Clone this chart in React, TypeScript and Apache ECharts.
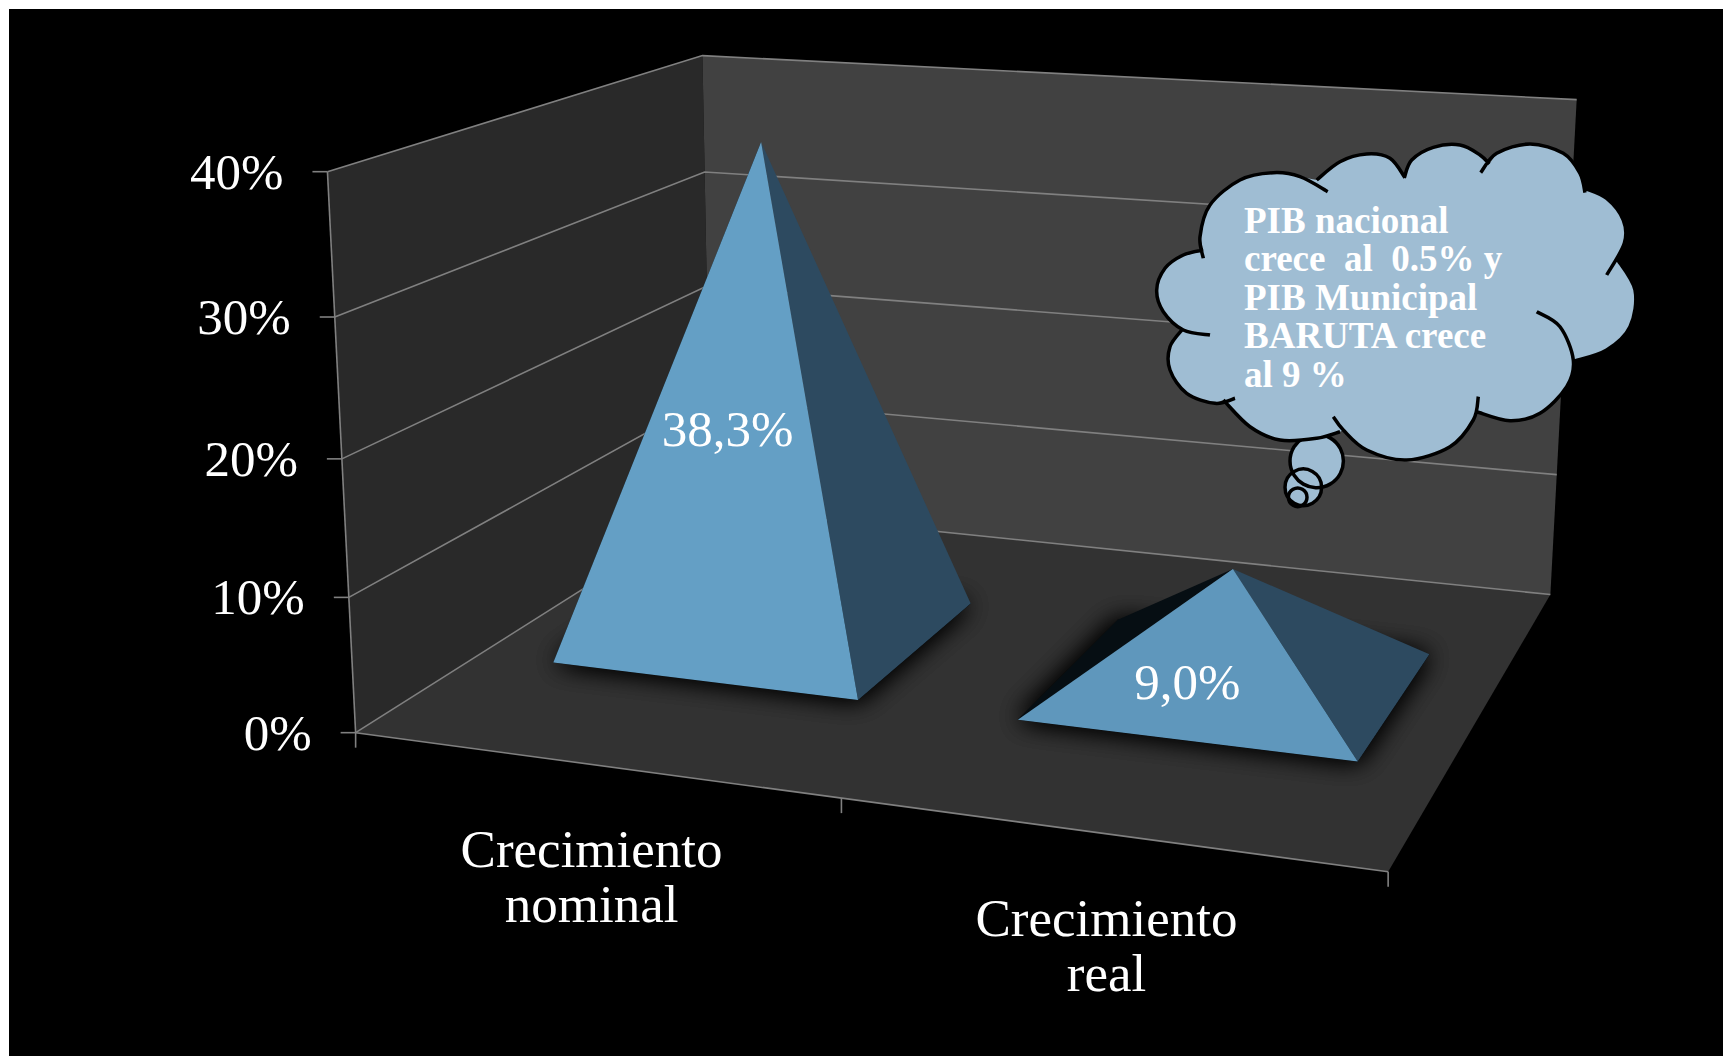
import React, { useEffect, useRef } from "react";
import * as echarts from "echarts";

// ---------- data ----------
const categories = ["Crecimiento\nnominal", "Crecimiento\nreal"];
const growthValues = [38.3, 9.0];
const growthLabels = ["38,3%", "9,0%"];
const yTicks = [0, 10, 20, 30, 40];
const yTickLabels = ["0%", "10%", "20%", "30%", "40%"];
const calloutLines = [
  "PIB nacional",
  "crece  al  0.5% y",
  "PIB Municipal",
  "BARUTA crece",
  "al 9 %",
];

// ---------- perspective frame: box corners [u, h, d] seen at [x, y] on the page ----------
const frameAnchors = [
  [0, 0, 0, 356.5, 733.5],
  [0.5, 0, 0, 842, 798.5],
  [1, 0, 0, 1387.2, 872],
  [0, 0.25, 0, 349, 597.3],
  [0, 0.5, 0, 341.7, 458.4],
  [0, 0.75, 0, 334.6, 316.4],
  [0, 1, 0, 327, 171.4],
  [0, 1, 1, 702.7, 56],
  [0, 0.75, 1, 705, 172.4],
  [0, 0, 1, 710, 507.6],
  [1, 1, 1, 1576.6, 99.7],
  [1, 0, 1, 1550.7, 594.2],
  [1, 0.25, 1, 1557, 474.6],
];

function solveProjection(anchors: number[][]) {
  const n = 11;
  const M = Array.from({ length: n }, () => new Array(n + 1).fill(0));
  const addRow = (row: number[], b: number) => {
    for (let i = 0; i < n; i++) {
      for (let j = 0; j < n; j++) M[i][j] += row[i] * row[j];
      M[i][n] += row[i] * b;
    }
  };
  anchors.forEach(([u, h, d, px, py]) => {
    const x = px / 1000;
    const y = py / 1000;
    addRow([u, h, d, 1, 0, 0, 0, 0, -x * u, -x * h, -x * d], x);
    addRow([0, 0, 0, 0, u, h, d, 1, -y * u, -y * h, -y * d], y);
  });
  for (let c = 0; c < n; c++) {
    let p = c;
    for (let r = c + 1; r < n; r++) if (Math.abs(M[r][c]) > Math.abs(M[p][c])) p = r;
    [M[c], M[p]] = [M[p], M[c]];
    for (let r = 0; r < n; r++) {
      if (r === c) continue;
      const f = M[r][c] / M[c][c];
      for (let k = c; k <= n; k++) M[r][k] -= f * M[c][k];
    }
  }
  return M.map((row, i) => row[n] / row[i]);
}

const P = solveProjection(frameAnchors);
function project(u: number, h: number, d: number): number[] {
  const w = P[8] * u + P[9] * h + P[10] * d + 1;
  return [
    (1000 * (P[0] * u + P[1] * h + P[2] * d + P[3])) / w,
    (1000 * (P[4] * u + P[5] * h + P[6] * d + P[7])) / w,
  ];
}

// ---------- cloud callout outline ----------
const lobes = {
  A: [[190, 385], [180, 320], [210, 225], [300, 150], [400, 128], [480, 140], [563, 185]],
  B: [[530, 150], [600, 95], [680, 72], [750, 85], [795, 143]],
  C: [[793, 143], [815, 90], [880, 52], [960, 45], [1020, 75], [1048, 102]],
  D: [[1022, 128], [1070, 70], [1170, 42], [1270, 70], [1320, 130], [1335, 188]],
  E: [[1335, 175], [1400, 205], [1450, 270], [1453, 340], [1400, 435]],
  F: [[1430, 385], [1485, 480], [1470, 590], [1400, 660], [1305, 693]],
  G: [[1190, 545], [1260, 590], [1300, 690], [1280, 770], [1200, 850], [1110, 872], [1010, 845]],
  H: [[1015, 800], [1000, 870], [930, 950], [800, 990], [680, 960], [610, 900], [580, 860]],
  I: [[600, 905], [530, 925], [420, 930], [330, 890], [250, 810]],
  J: [[285, 805], [225, 820], [140, 790], [90, 720], [90, 650], [130, 595]],
  K: [[210, 615], [130, 600], [70, 545], [50, 480], [75, 415], [130, 375], [190, 360]],
};
const cx = (v: number) => (1140 + v / 3).toFixed(1);
const cy = (v: number) => (130 + v / 3).toFixed(1);
function smooth(pts: number[][], first: boolean) {
  let d = `${first ? "M" : "L"}${cx(pts[0][0])} ${cy(pts[0][1])}`;
  for (let i = 0; i < pts.length - 1; i++) {
    const p0 = pts[Math.max(0, i - 1)];
    const p1 = pts[i];
    const p2 = pts[i + 1];
    const p3 = pts[Math.min(pts.length - 1, i + 2)];
    const c1 = [p1[0] + (p2[0] - p0[0]) / 6, p1[1] + (p2[1] - p0[1]) / 6];
    const c2 = [p2[0] - (p3[0] - p1[0]) / 6, p2[1] - (p3[1] - p1[1]) / 6];
    d += `C${cx(c1[0])} ${cy(c1[1])} ${cx(c2[0])} ${cy(c2[1])} ${cx(p2[0])} ${cy(p2[1])}`;
  }
  return d;
}
const fillParts = [
  lobes.A.slice(1, -1),
  lobes.B.slice(0, -1),
  lobes.C,
  lobes.D.slice(1, -1),
  lobes.E.slice(0, -1),
  lobes.F,
  lobes.G.slice(2),
  lobes.H.slice(1, -1),
  lobes.I,
  lobes.J.slice(1),
  lobes.K.slice(1),
];
const cloudFillPath = fillParts.map((p, i) => smooth(p, i === 0)).join("") + "Z";
const cloudLinePath = Object.values(lobes).map((p) => smooth(p, true)).join("");
echarts.graphic.registerShape("cloudFill", echarts.graphic.extendPath(cloudFillPath, {}));
echarts.graphic.registerShape("cloudLine", echarts.graphic.extendPath(cloudLinePath, {}));

// ---------- styling ----------
const FONT = "'Liberation Serif', serif";
const GRID = "#808080";
const CLOUD = "#9fbdd3";
const baseHalfU = 0.167;
const baseHalfD = 0.2;
const depthMid = 0.503;
const frontColors = ["#649fc5", "#5f97bc"];
const labelOffsets = [
  [-37, 37],
  [-44, 54],
];

const gridLine = (pts: number[][]) => ({
  type: "polyline",
  shape: { points: pts },
  style: { stroke: GRID, lineWidth: 1.6, fill: "none" },
});
const textEl = (text: string, x: number, y: number, align: string, vAlign: string, extra: any = {}) => ({
  type: "text",
  x,
  y,
  style: {
    text,
    fill: "#ffffff",
    fontFamily: FONT,
    fontSize: 51,
    align,
    verticalAlign: vAlign,
    textAlign: align,
    textVerticalAlign: vAlign,
    ...extra,
  },
});

function normalised(params: any, api: any, value: number[]) {
  const cs = params.coordSys;
  const c = api.coord(value);
  return [(c[0] - cs.x) / cs.width, (cs.y + cs.height - c[1]) / cs.height];
}

function renderWalls() {
  const poly = (corners: number[][], fill: string) => ({
    type: "polygon",
    shape: { points: corners.map((c) => project(c[0], c[1], c[2])) },
    style: { fill },
  });
  return {
    type: "group",
    children: [
      poly([[0, 0, 0], [0, 1, 0], [0, 1, 1], [0, 0, 1]], "#292929"),
      poly([[0, 0, 1], [0, 1, 1], [1, 1, 1], [1, 0, 1]], "#414141"),
      poly([[0, 0, 0], [0, 0, 1], [1, 0, 1], [1, 0, 0]], "#323232"),
      gridLine([project(0, 0, 0), project(0, 1, 0)]),
      gridLine([project(0, 0, 0), project(1, 0, 0)]),
    ],
  };
}

function renderTick(params: any, api: any) {
  const [, h] = normalised(params, api, [0, api.value(1)]);
  const front = project(0, h, 0);
  return {
    type: "group",
    children: [
      gridLine([front, project(0, h, 1), project(1, h, 1)]),
      gridLine([[front[0] - 15, front[1]], front]),
      textEl(yTickLabels[params.dataIndex], front[0] - 44, front[1], "right", "middle"),
    ],
  };
}

function renderCategory(params: any, api: any) {
  const [u] = normalised(params, api, [api.value(0), 0]);
  const band = api.size([1, 0])[0] / params.coordSys.width;
  const pt = project(u, 0, 0);
  const edges = params.dataIndex === categories.length - 1 ? [u - band / 2, u + band / 2] : [u - band / 2];
  return {
    type: "group",
    children: [
      ...edges.map((e) => {
        const t = project(e, 0, 0);
        return gridLine([t, [t[0], t[1] + 15]]);
      }),
      textEl(categories[params.dataIndex], pt[0], pt[1] + 57, "center", "top", { lineHeight: 55, fontSize: 53 }),
    ],
  };
}

function renderPyramid(params: any, api: any) {
  const i = params.dataIndex;
  const [u, h] = normalised(params, api, [api.value(0), api.value(1)]);
  const fl = project(u - baseHalfU, 0, depthMid - baseHalfD);
  const fr = project(u + baseHalfU, 0, depthMid - baseHalfD);
  const br = project(u + baseHalfU, 0, depthMid + baseHalfD);
  const bl = project(u - baseHalfU, 0, depthMid + baseHalfD);
  const apex = project(u, h, depthMid);
  const mid = project(u, h / 2, depthMid);
  const tri = (points: number[][], fill: string, extra: any = {}) => ({
    type: "polygon",
    shape: { points },
    style: { fill, ...extra },
  });
  const shadow = { shadowBlur: 26, shadowColor: "rgba(0,0,0,0.95)" };
  return {
    type: "group",
    children: [
      tri([fl, fr, br, bl], "#0a0a0a", shadow),
      tri([fl, fr, br, bl], "#0a0a0a", shadow),
      tri([fl, bl, apex], "#060e13"),
      tri([fr, br, apex], "#2d4a60"),
      tri([fl, fr, apex], frontColors[i]),
      textEl(growthLabels[i], mid[0] + labelOffsets[i][0], mid[1] + labelOffsets[i][1], "center", "middle"),
    ],
  };
}

export default function App() {
  const ref = useRef<HTMLDivElement>(null);
  useEffect(() => {
    const chart = echarts.init(ref.current!, undefined, { renderer: "svg" });
    const customBase = { type: "custom", clip: false, silent: true };
    chart.setOption({
      animation: false,
      backgroundColor: "transparent",
      grid: { left: 0, right: 0, top: 0, bottom: 0 },
      xAxis: { type: "category", data: categories, show: false },
      yAxis: { type: "value", min: 0, max: 40, interval: 10, show: false },
      series: [
        { ...customBase, name: "frame", data: [[0, 0]], renderItem: renderWalls },
        { ...customBase, name: "ticks", data: yTicks.map((v) => [0, v]), renderItem: renderTick },
        { ...customBase, name: "categories", data: categories.map((_, i) => [i, 0]), renderItem: renderCategory },
        { ...customBase, name: "Crecimiento", data: growthValues.map((v, i) => [i, v]), renderItem: renderPyramid },
      ],
      graphic: {
        elements: [
          { type: "circle", z: 100, silent: true, shape: { cx: 1316.7, cy: 461, r: 26.7 }, style: { fill: CLOUD } },
          { type: "circle", z: 100, silent: true, shape: { cx: 1303.3, cy: 487.3, r: 18.3 }, style: { fill: CLOUD } },
          { type: "circle", z: 100, silent: true, shape: { cx: 1297.7, cy: 497.3, r: 9.3 }, style: { fill: CLOUD } },
          { type: "circle", z: 101, silent: true, shape: { cx: 1316.7, cy: 461, r: 26.7 }, style: { fill: "none", stroke: "#000", lineWidth: 3.5 } },
          { type: "circle", z: 101, silent: true, shape: { cx: 1303.3, cy: 487.3, r: 18.3 }, style: { fill: "none", stroke: "#000", lineWidth: 3.5 } },
          { type: "circle", z: 101, silent: true, shape: { cx: 1297.7, cy: 497.3, r: 9.3 }, style: { fill: "none", stroke: "#000", lineWidth: 3.5 } },
          { type: "cloudFill", z: 102, silent: true, x: 0, y: 0, style: { fill: CLOUD } },
          { type: "cloudLine", z: 103, silent: true, x: 0, y: 0, style: { fill: "none", stroke: "#000", lineWidth: 3.5 } },
          ...calloutLines.map((line, i) => ({
            type: "text",
            z: 104,
            silent: true,
            x: 1244,
            y: 238.5 + i * 38.5,
            style: {
              text: line,
              fill: "#ffffff",
              fontFamily: FONT,
              fontWeight: "bold",
              fontSize: 37,
              align: "left",
              verticalAlign: "bottom",
              textAlign: "left",
              textVerticalAlign: "bottom",
            },
          })),
        ],
      },
    });
    return () => chart.dispose();
  }, []);
  return (
    <div style={{ position: "fixed", left: 0, top: 0, width: 1723, height: 1056, background: "#fff", overflow: "hidden" }}>
      <div style={{ position: "absolute", left: 9, top: 9, right: 0, bottom: 0, background: "#000" }} />
      <div ref={ref} style={{ position: "absolute", left: 0, top: 0, width: 1723, height: 1056 }} />
    </div>
  );
}
